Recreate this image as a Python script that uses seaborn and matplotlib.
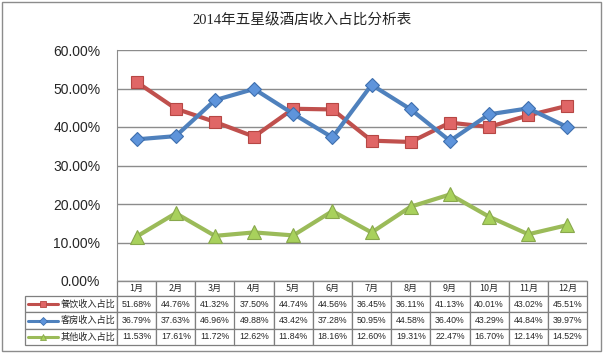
import numpy as np
import pandas as pd
import matplotlib
matplotlib.use("Agg")
import matplotlib.pyplot as plt
import seaborn as sns
from matplotlib.ticker import PercentFormatter
from matplotlib.patches import Rectangle

months = ["1月", "2月", "3月", "4月", "5月", "6月", "7月", "8月", "9月", "10月", "11月", "12月"]
series_names = ["餐饮收入占比", "客房收入占比", "其他收入占比"]
food = [51.68, 44.76, 41.32, 37.50, 44.74, 44.56, 36.45, 36.11, 41.13, 40.01, 43.02, 45.51]
rooms = [36.79, 37.63, 46.96, 49.88, 43.42, 37.28, 50.95, 44.58, 36.40, 43.29, 44.84, 39.97]
other = [11.53, 17.61, 11.72, 12.62, 11.84, 18.16, 12.60, 19.31, 22.47, 16.70, 12.14, 14.52]

sns.set_style("white")
cjk = ["Noto Sans CJK SC", "DejaVu Sans"]
plt.rcParams["font.family"] = ["Liberation Sans", "Noto Sans CJK SC"]

W, H = 604, 353
fig = plt.figure(figsize=(W / 100, H / 100), dpi=100)
fig.patch.set_facecolor("white")

# plot area in pixels
L, R, T, B = 117, 587, 50, 281
ax = fig.add_axes([L / W, 1 - B / H, (R - L) / W, (B - T) / H])

styles = [
    ("#C0504D", "s", "#E06666", "#B64744", 8.5),
    ("#4F81BD", "D", "#5E94DB", "#3E6FAE", 7.5),
    ("#9BBB59", "^", "#A8D15C", "#88A84C", 9.5),
]
xs = np.arange(len(months))
for vals, (c, m, fc, ec, ms) in zip([food, rooms, other], styles):
    df = pd.DataFrame({"x": xs, "y": np.array(vals) / 100})
    sns.lineplot(data=df, x="x", y="y", ax=ax, color=c, lw=3, marker=m,
                 markersize=ms, markerfacecolor=fc, markeredgecolor=ec,
                 markeredgewidth=0.8, zorder=3)

ax.set_xlim(-0.5, len(months) - 0.5)
ax.set_ylim(0, 0.6)
ax.set_yticks(np.arange(0, 0.61, 0.1))
ax.yaxis.set_major_formatter(PercentFormatter(1, decimals=2))
ax.grid(axis="y", color="#8c8c8c", lw=1)
ax.set_axisbelow(True)
ax.set_xticks([])
ax.set_xlabel("")
ax.set_ylabel("")
for s in ["top", "right"]:
    ax.spines[s].set_visible(False)
ax.spines["left"].set_color("#8c8c8c")
ax.spines["bottom"].set_color("#8c8c8c")
ax.tick_params(axis="y", length=0, pad=12, labelsize=10)

# data table under the plot
tb_left, tb_bottom = 25, 345
head_h = 15
tbl_h = (tb_bottom - B) / (B - T)
cell_text = [[f"{v:.2f}%" for v in vals] for vals in [food, rooms, other]]
tbl = ax.table(cellText=cell_text, rowLabels=series_names, colLabels=months,
               cellLoc="center", rowLoc="right",
               bbox=[0, -tbl_h, 1, tbl_h])
tbl.auto_set_font_size(False)
tbl._autoColumns = []
row_h = (tb_bottom - B - head_h) / 3
for (r, c), cell in tbl.get_celld().items():
    cell.set_edgecolor("#7f7f7f")
    cell.set_linewidth(0.9)
    cell.set_height(head_h if r == 0 else row_h)
    if c == -1:
        cell.set_width((L - tb_left) / (R - L))
        cell.PAD = 0.02
        cell.get_text().set_fontfamily(cjk)
        cell.get_text().set_fontsize(6.6)
    elif r == 0:
        cell.get_text().set_fontfamily(cjk)
        cell.get_text().set_fontsize(6.5)
    else:
        cell.get_text().set_fontsize(6.3)

# legend keys inside the row label cells
for i, (c, m, fc, ec, ms) in enumerate(styles):
    yc = B + head_h + row_h * (i + 0.5)
    ya = 1 - (yc - T) / (B - T)
    x0 = (28 - L) / (R - L)
    x1 = (58 - L) / (R - L)
    ax.plot([x0, x1], [ya, ya], transform=ax.transAxes, clip_on=False,
            color=c, lw=2.2, zorder=5)
    ax.plot([(x0 + x1) / 2], [ya], transform=ax.transAxes, clip_on=False,
            marker=m, color=c, markersize=4, markerfacecolor=fc,
            markeredgecolor=ec, markeredgewidth=0.6, zorder=6)

fig.text(0.5, 1 - 20 / H, "2014年五星级酒店收入占比分析表", ha="center", va="center",
         fontsize=10.5, family=["Liberation Serif", "Noto Sans CJK SC"])

fig.patches.append(Rectangle((2 / W, 2 / H), (W - 5) / W, (H - 4) / H,
                             transform=fig.transFigure, fill=False,
                             edgecolor="#8c8c8c", lw=1))

fig.savefig("out.png", dpi=100)
